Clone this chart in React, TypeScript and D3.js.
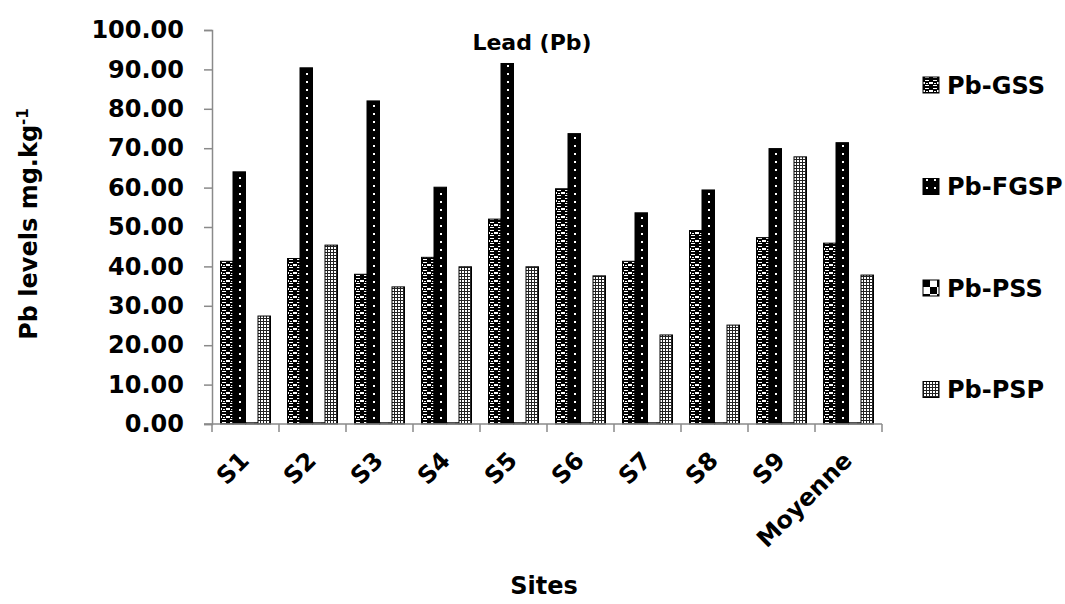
import React, { useEffect, useRef } from 'react';
import * as d3 from 'd3';

const categories = ['S1', 'S2', 'S3', 'S4', 'S5', 'S6', 'S7', 'S8', 'S9', 'Moyenne'];
const seriesNames = ['Pb-GSS', 'Pb-FGSP', 'Pb-PSS', 'Pb-PSP'];
const pbGSS = [41.3, 42.0, 38.0, 42.3, 52.0, 59.7, 41.3, 49.1, 47.3, 45.9];
const pbFGSP = [64.0, 90.4, 82.0, 60.1, 91.5, 73.7, 53.6, 59.4, 69.9, 71.4];
const pbPSS = [0.3, 0.3, 0.3, 0.3, 0.3, 0.3, 0.3, 0.3, 0.3, 0.3];
const pbPSP = [27.4, 45.4, 34.8, 39.9, 39.9, 37.6, 22.6, 25.1, 67.8, 37.8];
const yTicks = [0, 10, 20, 30, 40, 50, 60, 70, 80, 90, 100];

const FONT = 'DejaVu Sans, sans-serif';
const AXIS_GREY = '#8a8a8a';

const App = ({ width = 1065, height = 604 }) => {
  const svgRef = useRef(null);

  useEffect(() => {
    if (!svgRef.current) return;
    const svg = d3.select(svgRef.current);
    svg.selectAll('*').remove();

    const margin = { top: 30, right: 183, bottom: 180, left: 212 };
    const innerW = width - margin.left - margin.right;
    const innerH = height - margin.top - margin.bottom;

    const allSeries = [pbGSS, pbFGSP, pbPSS, pbPSP];

    // patterns (Excel-like hatch fills)
    const defs = svg.append('defs');

    const gss = defs.append('pattern').attr('id', 'p-gss')
      .attr('patternUnits', 'userSpaceOnUse').attr('width', 8).attr('height', 8);
    gss.append('rect').attr('width', 8).attr('height', 8).attr('fill', '#000');
    [[2, 0, 4, 1], [0, 2, 2, 2], [6, 2, 2, 2], [2, 5, 4, 1], [3, 3, 2, 1]].forEach(([x, y, w, h]) => {
      gss.append('rect').attr('x', x).attr('y', y).attr('width', w).attr('height', h).attr('fill', '#fff');
    });

    const fgsp = defs.append('pattern').attr('id', 'p-fgsp')
      .attr('patternUnits', 'userSpaceOnUse').attr('width', 8).attr('height', 8);
    fgsp.append('rect').attr('width', 8).attr('height', 8).attr('fill', '#000');
    fgsp.append('rect').attr('x', 3).attr('y', 3).attr('width', 2).attr('height', 2).attr('fill', '#fff');

    const pss = defs.append('pattern').attr('id', 'p-pss')
      .attr('patternUnits', 'userSpaceOnUse').attr('width', 14).attr('height', 14);
    pss.append('rect').attr('width', 14).attr('height', 14).attr('fill', '#fff');
    pss.append('rect').attr('width', 7).attr('height', 7).attr('fill', '#000');
    pss.append('rect').attr('x', 7).attr('y', 7).attr('width', 7).attr('height', 7).attr('fill', '#000');

    const psp = defs.append('pattern').attr('id', 'p-psp')
      .attr('patternUnits', 'userSpaceOnUse').attr('width', 3).attr('height', 3);
    psp.append('rect').attr('width', 3).attr('height', 3).attr('fill', '#222');
    psp.append('rect').attr('x', 1).attr('y', 1).attr('width', 2).attr('height', 2).attr('fill', '#fff');

    const fills = ['url(#p-gss)', 'url(#p-fgsp)', 'url(#p-pss)', 'url(#p-psp)'];

    // scales
    const x0 = d3.scaleBand().domain(categories).range([0, innerW]).paddingInner(0).paddingOuter(0);
    const x1 = d3.scaleBand().domain(seriesNames).range([0, x0.bandwidth()]).paddingInner(0).paddingOuter(0.68);
    const y = d3.scaleLinear().domain([0, 100]).range([innerH, 0]);

    const g = svg.append('g').attr('transform', `translate(${margin.left},${margin.top})`);

    // bars
    const groups = g.selectAll('.cat')
      .data(categories)
      .enter()
      .append('g')
      .attr('class', 'cat')
      .attr('transform', d => `translate(${x0(d)},0)`);

    groups.selectAll('rect')
      .data((_, i) => allSeries.map((s, k) => ({ name: seriesNames[k], value: s[i], k })))
      .enter()
      .append('rect')
      .attr('x', d => x1(d.name))
      .attr('y', d => y(d.value))
      .attr('width', x1.bandwidth())
      .attr('height', d => innerH - y(d.value))
      .attr('fill', d => fills[d.k])
      .attr('stroke', '#000')
      .attr('stroke-width', 1);

    // y axis
    const yAxis = g.append('g')
      .call(d3.axisLeft(y).tickValues(yTicks).tickSize(8).tickFormat(d3.format('.2f')));
    yAxis.select('.domain').attr('stroke', AXIS_GREY).attr('stroke-width', 1.5);
    yAxis.selectAll('.tick line').attr('stroke', AXIS_GREY).attr('stroke-width', 1.5);
    yAxis.selectAll('.tick text')
      .attr('x', -28)
      .attr('font-family', FONT)
      .attr('font-weight', 'bold')
      .attr('font-size', '24px')
      .attr('fill', '#000');

    // x axis (ticks at category boundaries)
    g.append('line')
      .attr('x1', -8).attr('x2', innerW)
      .attr('y1', innerH).attr('y2', innerH)
      .attr('stroke', AXIS_GREY).attr('stroke-width', 1.5);
    const bounds = d3.range(categories.length + 1).map(i => i * x0.step());
    g.selectAll('.xtick')
      .data(bounds)
      .enter()
      .append('line')
      .attr('x1', d => d).attr('x2', d => d)
      .attr('y1', innerH).attr('y2', innerH + 8)
      .attr('stroke', AXIS_GREY).attr('stroke-width', 1.5);

    // rotated category labels
    g.selectAll('.xlabel')
      .data(categories)
      .enter()
      .append('text')
      .attr('transform', d => `translate(${x0(d) + x0.bandwidth() / 2 + 5},${innerH + 38}) rotate(-45)`)
      .attr('text-anchor', 'end')
      .attr('font-family', FONT)
      .attr('font-weight', 'bold')
      .attr('font-size', '24px')
      .text(d => d);

    // title
    svg.append('text')
      .attr('x', 532)
      .attr('y', 50)
      .attr('text-anchor', 'middle')
      .attr('font-family', FONT)
      .attr('font-weight', 'bold')
      .attr('font-size', '22px')
      .text('Lead (Pb)');

    // axis titles
    svg.append('text')
      .attr('x', 544)
      .attr('y', 594)
      .attr('text-anchor', 'middle')
      .attr('font-family', FONT)
      .attr('font-weight', 'bold')
      .attr('font-size', '24px')
      .text('Sites');

    const yTitle = svg.append('text')
      .attr('transform', 'translate(37,224) rotate(-90)')
      .attr('text-anchor', 'middle')
      .attr('font-family', FONT)
      .attr('font-weight', 'bold')
      .attr('font-size', '24px');
    yTitle.append('tspan').text('Pb levels mg.kg');
    yTitle.append('tspan').attr('dy', -9).attr('font-size', '15px').text('-1');

    // legend
    const legend = svg.append('g').attr('transform', 'translate(923,0)');
    seriesNames.forEach((name, i) => {
      const cy = 85 + i * 101.5;
      legend.append('rect')
        .attr('x', 0).attr('y', cy - 8)
        .attr('width', 16).attr('height', 16)
        .attr('fill', fills[i])
        .attr('stroke', '#000');
      legend.append('text')
        .attr('x', 24).attr('y', cy)
        .attr('dy', '0.36em')
        .attr('font-family', FONT)
        .attr('font-weight', 'bold')
        .attr('font-size', '24px')
        .text(name);
    });
  }, [width, height]);

  return (
    <div style={{ position: 'absolute', left: 0, top: 0 }}>
      <svg ref={svgRef} width={width} height={height} style={{ display: 'block', background: '#fff' }}></svg>
    </div>
  );
};

export default App;
